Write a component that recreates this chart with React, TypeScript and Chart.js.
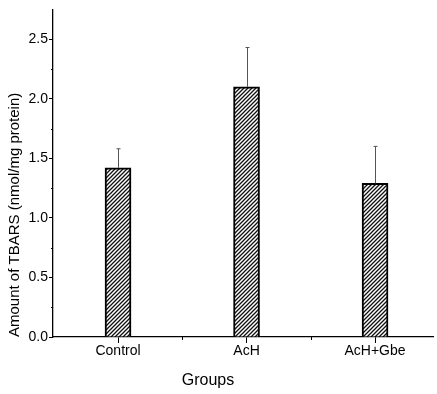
import React, { useEffect, useRef } from "react";
import { Chart, registerables } from "chart.js";
Chart.register(...registerables);

const groups = ["Control", "AcH", "AcH+Gbe"];
const means = [1.42, 2.1, 1.29];
const errors = [0.16, 0.33, 0.31];
const yTicks = [0, 0.5, 1.0, 1.5, 2.0, 2.5];
const yMinor = [0.25, 0.75, 1.25, 1.75, 2.25];
const xPositions = [1, 2, 3];
const xMinor = [1.5, 2.5];

const FONT = "'Liberation Sans', Arial, sans-serif";

function makeHatch(): CanvasPattern | string {
  const c = document.createElement("canvas");
  c.width = 4;
  c.height = 4;
  const g = c.getContext("2d");
  if (!g) return "#888";
  g.fillStyle = "#fff";
  g.fillRect(0, 0, 4, 4);
  g.strokeStyle = "#111";
  g.lineWidth = 1.3;
  g.beginPath();
  g.moveTo(-1, 5);
  g.lineTo(5, -1);
  g.moveTo(-1, 1);
  g.lineTo(1, -1);
  g.moveTo(3, 5);
  g.lineTo(5, 3);
  g.stroke();
  return g.createPattern(c, "repeat") || "#888";
}

const extrasPlugin = {
  id: "extras",
  afterDatasetsDraw(chart: any) {
    const ctx = chart.ctx;
    const xs = chart.scales.x;
    const ys = chart.scales.y;
    ctx.save();
    // error bars (upper only)
    ctx.strokeStyle = "#555";
    ctx.lineWidth = 1;
    means.forEach((m, i) => {
      const x = Math.round(xs.getPixelForValue(xPositions[i])) + 0.5;
      const y0 = ys.getPixelForValue(m);
      const y1 = ys.getPixelForValue(m + errors[i]);
      ctx.beginPath();
      ctx.moveTo(x, y0);
      ctx.lineTo(x, y1);
      ctx.moveTo(x - 2, y1);
      ctx.lineTo(x + 2, y1);
      ctx.stroke();
    });
    // minor ticks
    ctx.strokeStyle = "#000";
    const ca = chart.chartArea;
    yMinor.forEach((v) => {
      const y = Math.round(ys.getPixelForValue(v)) + 0.5;
      ctx.beginPath();
      ctx.moveTo(ca.left - 2, y);
      ctx.lineTo(ca.left, y);
      ctx.stroke();
    });
    xMinor.forEach((v) => {
      const x = Math.round(xs.getPixelForValue(v)) + 0.5;
      ctx.beginPath();
      ctx.moveTo(x, ca.bottom);
      ctx.lineTo(x, ca.bottom + 3);
      ctx.stroke();
    });
    // x title
    ctx.fillStyle = "#000";
    ctx.font = `16px ${FONT}`;
    ctx.textAlign = "center";
    ctx.textBaseline = "middle";
    ctx.fillText("Groups", 208, 381);
    ctx.restore();
  },
};

export default function App() {
  const ref = useRef<HTMLCanvasElement>(null);
  useEffect(() => {
    if (!ref.current) return;
    const hatch = makeHatch();
    const chart = new Chart(ref.current, {
      type: "bar",
      data: {
        datasets: [
          {
            data: means.map((m, i) => ({ x: xPositions[i], y: m })),
            backgroundColor: hatch as any,
            borderColor: "#000",
            borderWidth: 2,
            borderSkipped: "bottom",
            barThickness: 26,
          },
        ],
      },
      options: {
        animation: false,
        responsive: false,
        events: [],
        layout: { padding: { top: 7, right: 4, left: 0, bottom: 0 } },
        plugins: { legend: { display: false }, tooltip: { enabled: false } },
        scales: {
          x: {
            type: "linear",
            min: 0.494,
            max: 3.451,
            offset: false,
            afterFit: (s: any) => {
              s.height = 57;
            },
            afterBuildTicks: (s: any) => {
              s.ticks = xPositions.map((v) => ({ value: v }));
            },
            ticks: {
              callback: (v: any) => groups[xPositions.indexOf(Number(v))] ?? "",
              color: "#000",
              font: { family: FONT, size: 14 },
              padding: 0,
              maxRotation: 0,
              autoSkip: false,
            },
            grid: {
              drawOnChartArea: false,
              offset: false,
              tickLength: 6,
              color: "#000",
            },
            border: { display: true, color: "#000", width: 1.3 },
          },
          y: {
            type: "linear",
            min: 0,
            max: 2.75,
            afterFit: (s: any) => {
              s.width = 53;
            },
            afterBuildTicks: (s: any) => {
              s.ticks = yTicks.map((v) => ({ value: v }));
            },
            ticks: {
              callback: (v: any) => Number(v).toFixed(1),
              color: "#000",
              font: { family: FONT, size: 14 },
              padding: 1,
            },
            grid: {
              drawOnChartArea: false,
              tickLength: 4,
              color: "#000",
            },
            border: { display: true, color: "#000", width: 1.3 },
            title: {
              display: true,
              text: "Amount of TBARS (nmol/mg protein)",
              align: "start",
              color: "#000",
              font: { family: FONT, size: 15 },
              padding: { top: 6, bottom: 0 },
            },
          },
        },
      },
      plugins: [extrasPlugin],
    } as any);
    return () => chart.destroy();
  }, []);
  return (
    <div style={{ position: "fixed", left: 0, top: 0, width: 437, height: 394, background: "#fff" }}>
      <canvas ref={ref} width={437} height={394} />
    </div>
  );
}
